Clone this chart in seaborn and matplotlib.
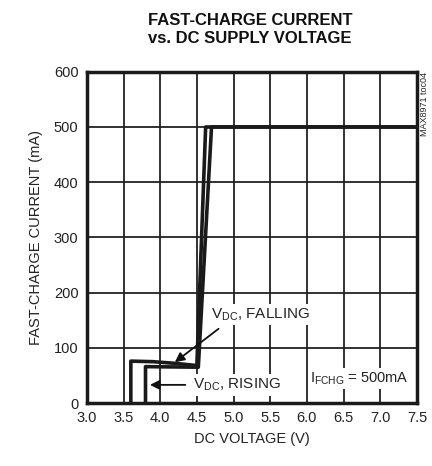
import matplotlib
matplotlib.use('Agg')
import matplotlib.pyplot as plt
import pandas as pd
import seaborn as sns

# DC voltage (V) vs fast-charge current (mA)
v_falling = [3.6, 3.6, 3.9, 4.2, 4.5, 4.62, 7.5]
i_falling = [0, 76, 75, 72, 68, 500, 500]

v_rising = [3.8, 3.8, 4.52, 4.7, 7.5]
i_rising = [0, 66, 65, 500, 500]

x_ticks = [3.0, 3.5, 4.0, 4.5, 5.0, 5.5, 6.0, 6.5, 7.0, 7.5]
y_ticks = [0, 100, 200, 300, 400, 500, 600]

df_f = pd.DataFrame({'v': v_falling, 'i': i_falling})
df_r = pd.DataFrame({'v': v_rising, 'i': i_rising})

##
sns.set_style('white')
plt.rcParams['font.family'] = ['Liberation Sans Narrow', 'Liberation Sans', 'DejaVu Sans']

fig = plt.figure(figsize=(4.32, 4.66), dpi=100)
ax = fig.add_axes([0.201, 0.135, 0.764, 0.711])

ax.grid(True, color='#222222', linewidth=1.3)
ax.set_axisbelow(True)

for d in (df_f, df_r):
  sns.lineplot(data=d, x='v', y='i', sort=False, estimator=None, color='#1a1a1a',
               linewidth=2.6, ax=ax, zorder=3)

ax.set_xlim(3.0, 7.5)
ax.set_ylim(0, 600)
ax.set_xticks(x_ticks)
ax.set_yticks(y_ticks)
ax.set_xticklabels(['{:.1f}'.format(t) for t in x_ticks])
ax.tick_params(labelsize=10.5, length=0, pad=6, colors='#222222')

for sp in ax.spines.values():
  sp.set_visible(True)
  sp.set_color('#1a1a1a')
  sp.set_linewidth(2.5)

ax.set_xlabel('DC VOLTAGE (V)', fontsize=10.5, color='#222222', labelpad=5)
ax.set_ylabel('FAST-CHARGE CURRENT (mA)', fontsize=10.5, color='#222222', labelpad=8)

fig.text(0.579, 0.937, 'FAST-CHARGE CURRENT\nvs. DC SUPPLY VOLTAGE', ha='center', va='center',
         fontsize=12, fontweight='bold', linespacing=1.25, color='#111111')

fig.text(0.982, 0.845, 'MAX8971 toc04', rotation=90, ha='center', va='top', fontsize=6.5, color='#222222')

box = dict(boxstyle='square,pad=0.15', fc='white', ec='none')
ax.annotate('V$_{\\mathregular{DC}}$, FALLING', xy=(4.2, 74), xytext=(5.37, 160),
            fontsize=11, ha='center', va='center', bbox=box, color='#222222',
            arrowprops=dict(arrowstyle='-|>', color='#111111', lw=1.3, mutation_scale=14,
                            relpos=(0.15, 0.0), shrinkA=4, shrinkB=0), zorder=5)
ax.annotate('V$_{\\mathregular{DC}}$, RISING', xy=(3.86, 33), xytext=(4.45, 33),
            fontsize=11, ha='left', va='center', bbox=box, color='#222222',
            arrowprops=dict(arrowstyle='-|>', color='#111111', lw=1.3, mutation_scale=14,
                            relpos=(0.0, 0.5), shrinkA=4, shrinkB=0), zorder=5)
ax.text(6.72, 45, 'I$_{\\mathregular{FCHG}}$ = 500mA', fontsize=10.5, ha='center', va='center',
        bbox=box, color='#222222', zorder=5)

plt.savefig('out.png', dpi=100)
